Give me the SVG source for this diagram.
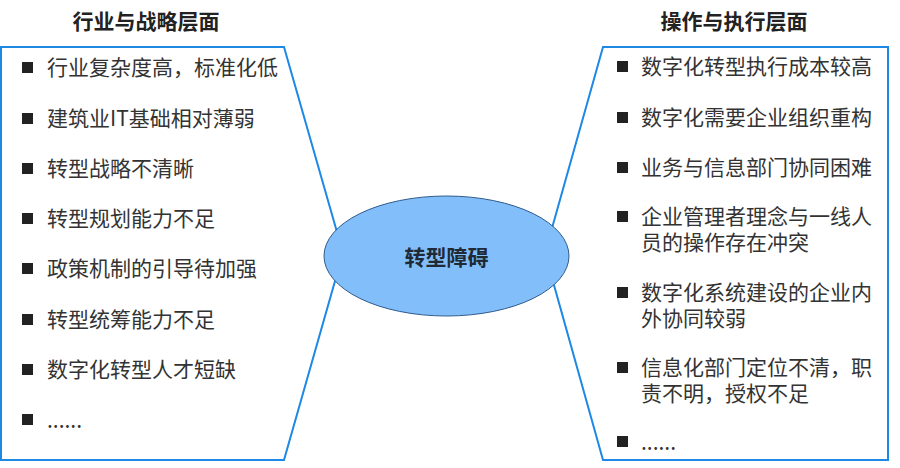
<svg xmlns="http://www.w3.org/2000/svg" width="900" height="468" viewBox="0 0 900 468">
<style>
.panel{fill:#fff;stroke:#1E88E5;stroke-width:2}
.t{font-family:"Noto Sans CJK SC","Liberation Sans",sans-serif;font-size:21px;fill:#333}
.h{font-family:"Noto Sans CJK SC","Liberation Sans",sans-serif;font-size:21px;font-weight:bold;fill:#222;text-anchor:middle}
.b{fill:#222}
</style>
<rect width="900" height="468" fill="#fff"/>
<g id="connectors">
<path class="panel" d="M1,47 L284,47 L343,253 L284,460 L1,460 Z"/>
<path class="panel" d="M888,47 L603,47 L545,253 L603,460 L888,460 Z"/>
</g>
<g id="left-title"><text class="h" x="146" y="29">行业与战略层面</text></g>
<g id="right-title"><text class="h" x="734" y="29">操作与执行层面</text></g>
<g id="left">
<rect class="b" x="22" y="62" width="11" height="11"/><text class="t" x="47" y="75">行业复杂度高，标准化低</text>
<rect class="b" x="22" y="113" width="11" height="11"/><text class="t" x="47" y="126">建筑业IT基础相对薄弱</text>
<rect class="b" x="22" y="163" width="11" height="11"/><text class="t" x="47" y="176">转型战略不清晰</text>
<rect class="b" x="22" y="213" width="11" height="11"/><text class="t" x="47" y="226">转型规划能力不足</text>
<rect class="b" x="22" y="263" width="11" height="11"/><text class="t" x="47" y="276">政策机制的引导待加强</text>
<rect class="b" x="22" y="314" width="11" height="11"/><text class="t" x="47" y="327">转型统筹能力不足</text>
<rect class="b" x="22" y="364" width="11" height="11"/><text class="t" x="47" y="377">数字化转型人才短缺</text>
<rect class="b" x="22" y="414" width="11" height="11"/><text class="t" x="47" y="428">......</text>
</g>
<g id="right">
<rect class="b" x="617" y="61" width="11" height="11"/><text class="t" x="641" y="74">数字化转型执行成本较高</text>
<rect class="b" x="617" y="112" width="11" height="11"/><text class="t" x="641" y="125">数字化需要企业组织重构</text>
<rect class="b" x="617" y="162" width="11" height="11"/><text class="t" x="641" y="175">业务与信息部门协同困难</text>
<rect class="b" x="617" y="211" width="11" height="11"/><text class="t" x="641" y="224">企业管理者理念与一线人<tspan x="641" y="250">员的操作存在冲突</tspan></text>
<rect class="b" x="617" y="287" width="11" height="11"/><text class="t" x="641" y="300">数字化系统建设的企业内<tspan x="641" y="326">外协同较弱</tspan></text>
<rect class="b" x="617" y="362" width="11" height="11"/><text class="t" x="641" y="375">信息化部门定位不清，职<tspan x="641" y="401">责不明，授权不足</tspan></text>
<rect class="b" x="617" y="436" width="11" height="11"/><text class="t" x="641" y="450">......</text>
</g>
<g id="center">
<ellipse cx="446.5" cy="256" rx="122.5" ry="60" fill="#82BFFA" stroke="#2F5B8C" stroke-width="1"/>
<text class="h" x="446.5" y="265" style="fill:#1F2A36">转型障碍</text>
</g>
</svg>
